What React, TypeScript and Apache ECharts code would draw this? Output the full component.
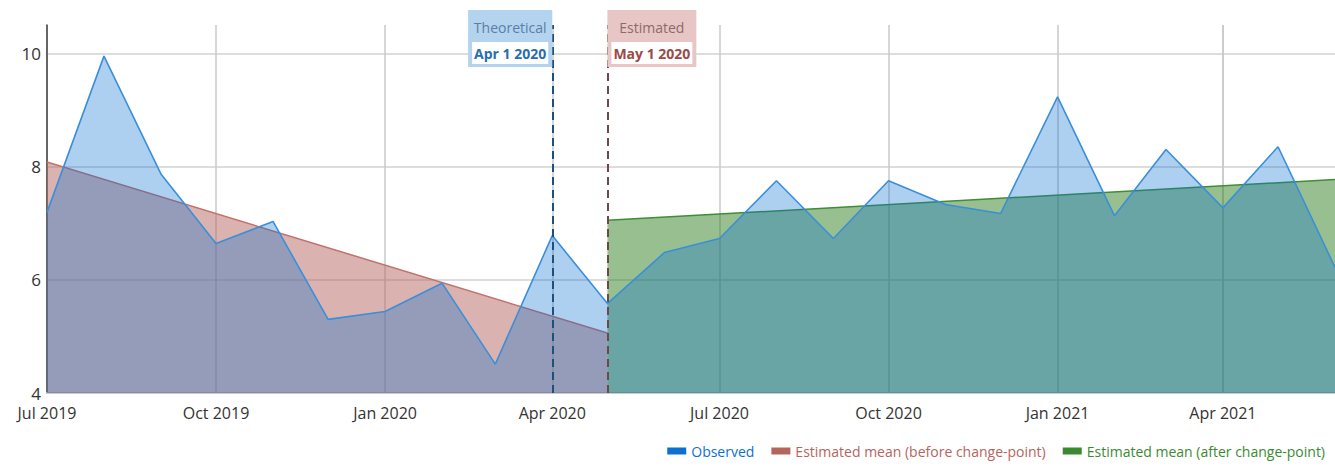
import React, { useEffect, useRef } from "react";
import * as echarts from "echarts";

const months = [
  "2019-07-01", "2019-08-01", "2019-09-01", "2019-10-01", "2019-11-01", "2019-12-01",
  "2020-01-01", "2020-02-01", "2020-03-01", "2020-04-01", "2020-05-01", "2020-06-01",
  "2020-07-01", "2020-08-01", "2020-09-01", "2020-10-01", "2020-11-01", "2020-12-01",
  "2021-01-01", "2021-02-01", "2021-03-01", "2021-04-01", "2021-05-01", "2021-06-01",
];
const observed = [
  7.19, 9.95, 7.87, 6.64, 7.03, 5.3,
  5.44, 5.94, 4.51, 6.78, 5.58, 6.48,
  6.73, 7.75, 6.73, 7.75, 7.33, 7.17,
  9.23, 7.13, 8.3, 7.27, 8.35, 6.22,
];
const beforeDates = ["2019-07-01", "2020-05-01"];
const beforeMean = [8.08, 5.06];
const afterDates = ["2020-05-01", "2021-06-01"];
const afterMean = [7.05, 7.77];
const tickDates = ["2019-07-01", "2019-10-01", "2020-01-01", "2020-04-01", "2020-07-01", "2020-10-01", "2021-01-01", "2021-04-01"];
const theoreticalDate = "2020-04-01";
const estimatedDate = "2020-05-01";
const seriesNames = ["Observed", "Estimated mean (before change-point)", "Estimated mean (after change-point)"];

const FONT = "'Open Sans', 'Noto Sans', sans-serif";

function ts(d: string) {
  const [y, m, day] = d.split("-").map(Number);
  return new Date(y, m - 1, day).getTime();
}

export default function App() {
  const ref = useRef<HTMLDivElement>(null);
  useEffect(() => {
    if (!ref.current) return;
    const chart = echarts.init(ref.current, null, { renderer: "svg" });
    const legendColors = ["#0b70d2", "#b5645e", "#3a8a31"];
    const tickValues = tickDates.map(ts);
    chart.setOption({
      animation: false,
      textStyle: { fontFamily: FONT },
      grid: { left: 47, right: 0, top: 25, bottom: 73 },
      legend: {
        right: 5,
        bottom: 3,
        icon: "rect",
        itemWidth: 19,
        itemHeight: 7,
        itemGap: 17,
        textStyle: { fontSize: 14, fontFamily: FONT },
        data: seriesNames.map((n, i) => ({
          name: n,
          itemStyle: { color: legendColors[i] },
          textStyle: { color: legendColors[i] },
        })),
      },
      xAxis: {
        type: "time",
        min: ts(months[0]),
        max: ts(months[months.length - 1]),
        axisLine: { show: true, lineStyle: { color: "#cccccc", width: 2 } },
        axisTick: { show: false, customValues: tickValues },
        axisLabel: {
          customValues: tickValues,
          formatter: "{MMM} {yyyy}",
          fontSize: 16,
          color: "#333",
          margin: 12,
          fontFamily: FONT,
        },
        splitLine: { show: true, lineStyle: { color: "#c8c8c8", width: 1.5 } },
      },
      yAxis: {
        type: "value",
        min: 4,
        max: 10.5,
        interval: 2,
        axisLine: { show: true, lineStyle: { color: "#444", width: 1.5 } },
        axisTick: { show: false },
        axisLabel: { fontSize: 17, color: "#333", margin: 6, showMaxLabel: false, fontFamily: FONT },
        splitLine: { show: true, showMaxLine: false, lineStyle: { color: "#dddddd", width: 2 } },
      },
      series: [
        {
          name: seriesNames[1],
          type: "line",
          data: beforeDates.map((d, i) => [ts(d), beforeMean[i]]),
          showSymbol: false,
          itemStyle: { color: legendColors[1] },
          lineStyle: { color: "#c2716b", width: 1.5 },
          areaStyle: { color: "#b5655f", opacity: 0.5, origin: "start" },
          z: 2,
        },
        {
          name: seriesNames[2],
          type: "line",
          data: afterDates.map((d, i) => [ts(d), afterMean[i]]),
          showSymbol: false,
          itemStyle: { color: legendColors[2] },
          lineStyle: { color: "#3f8d36", width: 1.5 },
          areaStyle: { color: "#328020", opacity: 0.5, origin: "start" },
          z: 2,
        },
        {
          name: seriesNames[0],
          type: "line",
          data: months.map((d, i) => [ts(d), observed[i]]),
          showSymbol: false,
          itemStyle: { color: legendColors[0] },
          lineStyle: { color: "#3a8fda", width: 1.6 },
          areaStyle: { color: "#0a6fd0", opacity: 0.33, origin: "start" },
          z: 3,
          markLine: {
            silent: true,
            symbol: ["none", "none"],
            animation: false,
            data: [
              {
                xAxis: ts(theoreticalDate),
                lineStyle: { color: "#1f4f7c", width: 2, type: [8, 5] },
                label: {
                  show: true,
                  position: "end",
                  align: "right",
                  verticalAlign: "top",
                  distance: 15,
                  formatter: "{t|Theoretical}\n{d|Apr 1 2020}",
                  backgroundColor: "#b3d3ef",
                  padding: [3, 4, 2, 4],
                  rich: {
                    t: { color: "#5a7ea8", fontSize: 14, lineHeight: 28, align: "center", fontFamily: FONT },
                    d: {
                      color: "#2a6cb0",
                      fontSize: 14,
                      fontWeight: "bold",
                      backgroundColor: "#ffffff",
                      padding: [4, 2],
                      lineHeight: 24,
                      align: "center",
                      fontFamily: FONT,
                    },
                  },
                },
              },
              {
                xAxis: ts(estimatedDate),
                lineStyle: { color: "#6e4848", width: 2, type: [8, 5] },
                label: {
                  show: true,
                  position: "end",
                  align: "left",
                  verticalAlign: "top",
                  distance: 15,
                  formatter: "{t|Estimated}\n{d|May 1 2020}",
                  backgroundColor: "#e8c6c5",
                  padding: [3, 4, 2, 4],
                  rich: {
                    t: { color: "#8c6a6a", fontSize: 14, lineHeight: 28, align: "center", fontFamily: FONT },
                    d: {
                      color: "#9a4a48",
                      fontSize: 14,
                      fontWeight: "bold",
                      backgroundColor: "#ffffff",
                      padding: [4, 2],
                      lineHeight: 24,
                      align: "center",
                      fontFamily: FONT,
                    },
                  },
                },
              },
            ],
          },
        },
      ],
    });
    return () => chart.dispose();
  }, []);
  return (
    <div
      ref={ref}
      style={{ position: "absolute", left: 0, top: 0, width: 1335, height: 466 }}
    />
  );
}
